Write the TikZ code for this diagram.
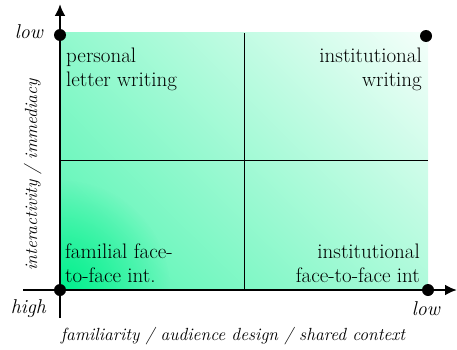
\documentclass[tikz,border=0pt]{standalone}
\usepackage{tikz}
\usetikzlibrary{arrows.meta,shadings,fadings}
\definecolor{mint}{RGB}{0,240,140}
\tikzfading[name=glow, inner color=transparent!0, outer color=transparent!100]

\begin{document}
\begin{tikzpicture}[x=1pt,y=1pt,
  dot/.style={circle,fill=black,inner sep=0pt,minimum size=12pt},
  axis/.style={line width=2.5pt,-{Latex[length=12pt,width=11pt]}},
  cell/.style={inner sep=0pt,font=\fontsize{21}{24}\selectfont},
  tick/.style={inner sep=0pt,font=\fontsize{20}{22}\selectfont\itshape},
  axislabel/.style={inner sep=0pt,font=\fontsize{17.6}{20}\selectfont\itshape}]
\useasboundingbox (0,0) rectangle (457,349);
% background field
\shade[lower left=mint!69!white, upper left=mint!43!white, lower right=mint!32!white, upper right=mint!4!white] (60,59) rectangle (428,316);
\begin{scope}
\clip (60,59) rectangle (428,316);
\fill[mint,path fading=glow] (60,59) circle (110);
\end{scope}
\path[draw,line width=0.8pt] (244,59) -- (244,316);
\path[draw,line width=0.8pt] (60,189) -- (428,189);
% axes
\coordinate (ybot) at (60,31);
\coordinate (ytop) at (60,345);
\coordinate (xleft) at (23,59);
\coordinate (xright) at (457,59);
\path[draw,axis] (ybot) -- (ytop);
\path[draw,axis] (xleft) -- (xright);
\node[dot] (o) at (60,59) {};
\node[dot] (tl) at (60,314) {};
\node[dot] (tr) at (426,313) {};
\node[dot] (br) at (428,59) {};
% quadrants
\node[cell,anchor=north west,align=left] (plw) at (66,301.6) {personal\\letter writing};
\node[cell,anchor=north east,align=right] (iw) at (422,301.6) {institutional\\writing};
\node[cell,anchor=north west,align=left] (ff) at (65,105.6) {familial face-\\to-face int.};
\node[cell,anchor=north east,align=right] (if) at (420,105.6) {institutional\\face-to-face int};
% labels
\node[tick,anchor=base east] (ylow) at (43,310) {low};
\node[tick,anchor=base east] (yhigh) at (46,36) {high};
\node[tick,anchor=base east] (xlow) at (440,34) {low};
\node[axislabel,anchor=base] (xlab) at (233,9) {familiarity / audience design / shared context};
\node[axislabel,anchor=base,rotate=90] (ylab) at (37,174) {interactivity / immediacy};
\end{tikzpicture}
\end{document}
